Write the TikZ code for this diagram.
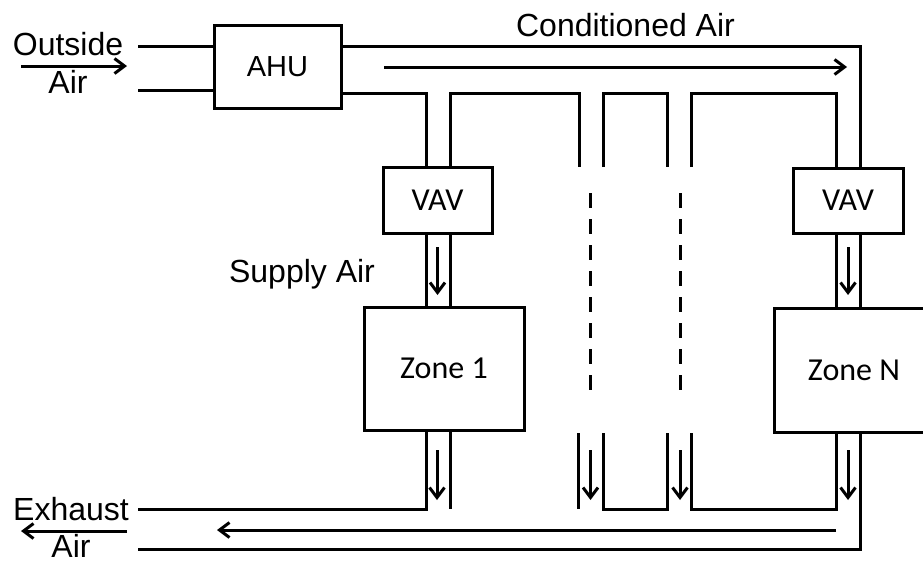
\documentclass[tikz,border=0pt]{standalone}
\usepackage{fontspec}
\setmainfont{Liberation Sans}
\newfontfamily\calibriFont{Carlito}
\usetikzlibrary{arrows.meta,positioning,calc}
\tikzset{
  ductWall/.style={line width=3pt},
  airArrow/.style={-{Straight Barb[length=10pt,width=15pt]},line width=3pt},
  unitBox/.style={rectangle,draw,line width=3pt,inner sep=0pt,outer sep=0pt,
                  font=\calibriFont\fontsize{32}{38}\selectfont},
  lblText/.style={inner sep=0pt,anchor=base,font=\fontsize{32}{38}\selectfont},
}
\begin{document}
\begin{tikzpicture}[x=1pt,y=-1pt]
  \useasboundingbox (0,0) rectangle (923,563);
  \node[unitBox,minimum width=127pt,minimum height=83pt,
        font=\fontsize{29}{34}\selectfont](ahu) at (277.5,66.5){AHU};
  \node[unitBox,minimum width=109pt,minimum height=66pt](vav1) at (437.5,200){VAV};
  \node[unitBox,minimum width=110pt,minimum height=65pt](vavN) at (848,200.5){VAV};
  \node[unitBox,minimum width=160pt,minimum height=123pt](zone1) at (444,368.5){Zone 1};
  \node[unitBox,minimum width=160pt,minimum height=124pt](zoneN) at (854,370){Zone N};
  \node[lblText](outsideLbl) at (68,55){Outside};
  \node[lblText](outsideAir) at (68,93){Air};
  \node[lblText](exhaustLbl) at (71,520){Exhaust};
  \node[lblText](exhaustAir) at (71,557){Air};
  \node[lblText](supplyLbl) at (302,282){Supply Air};
  \node[lblText](condLbl) at (625.5,36){Conditioned Air};
  \coordinate (oaIn) at (21,66);   \coordinate (oaOut) at (127,66);
  \coordinate (eaIn) at (127,531); \coordinate (eaOut) at (21,531);
  \coordinate (caIn) at (384,67);  \coordinate (caOut) at (847,67);
  \coordinate (raIn) at (836,530); \coordinate (raOut) at (217,530);
  \draw[airArrow](oaIn)--(oaOut);
  \draw[airArrow](eaIn)--(eaOut);
  \draw[airArrow](caIn)--(caOut);
  \draw[airArrow](raIn)--(raOut);
  % supply side
  \draw[ductWall](138,46)--(ahu.west |- 0,46);
  \draw[ductWall](138,90)--(ahu.west |- 0,90);
  \draw[ductWall](ahu.east |- 0,46)--(860,46)--(vavN.north -| 860,0);
  \draw[ductWall](ahu.east |- 0,93)--(426,93)--(vav1.north -| 426,0);
  \foreach \l/\r in {450/579,603/667,691/836}{
    \draw[ductWall](\l,167)--(\l,93)--(\r,93)--(\r,167);}
  \foreach \w in {426,450}{\draw[ductWall](vav1.south -| \w,0)--(zone1.north -| \w,0);}
  \foreach \w in {836,860}{\draw[ductWall](vavN.south -| \w,0)--(zoneN.north -| \w,0);}
  \draw[airArrow](vav1.south |- 0,247)--(vav1.south |- 0,295);
  \draw[airArrow](vavN.south |- 0,247)--(vavN.south |- 0,295);
  \foreach \x in {590.5,680}{
    \draw[ductWall,dash pattern=on 15pt off 11pt](\x,193)--(\x,391);}
  % return side
  \draw[ductWall](zone1.south -| 426,0)--(426,509)--(138,509);
  \draw[ductWall](zone1.south -| 450,0)--(450,509);
  \draw[ductWall](578,433)--(578,509);
  \draw[ductWall](603,433)--(603,509)--(667,509)--(667,433);
  \draw[ductWall](691,433)--(691,509)--(836,509)--(zoneN.south -| 836,0);
  \draw[ductWall](zoneN.south -| 860,0)--(860,549)--(138,549);
  \foreach \x in {437,590.5,680,848}{\draw[airArrow](\x,450)--(\x,500);}
\end{tikzpicture}
\end{document}
